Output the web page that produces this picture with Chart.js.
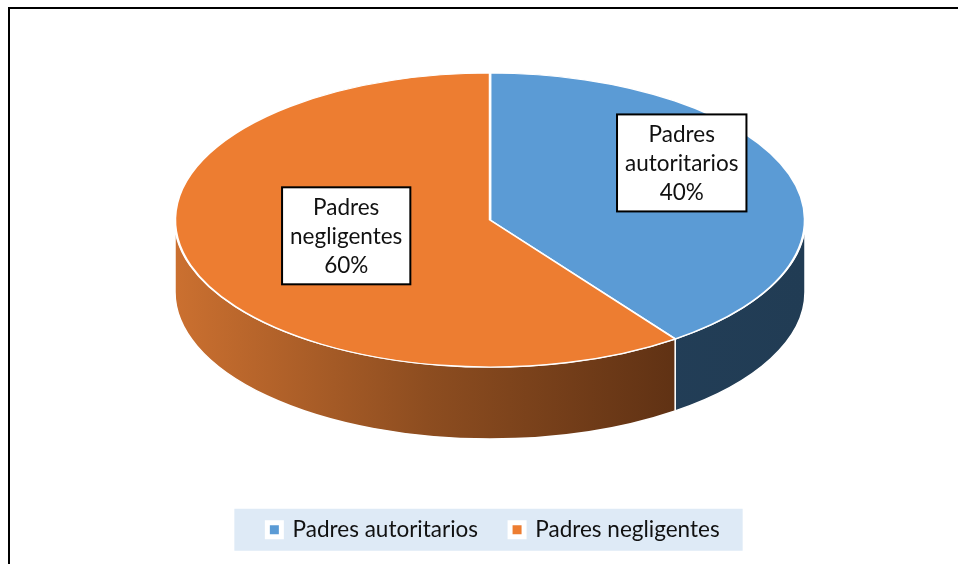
<!DOCTYPE html>
<html>
<head>
<meta charset="utf-8">
<script src="https://cdn.jsdelivr.net/npm/chart.js@4.4.0/dist/chart.umd.min.js"></script>
<style>
  html, body { margin: 0; padding: 0; background: #fff; overflow: hidden; }
  #marco { position: absolute; left: 8px; top: 7px; width: 960px; height: 570px; border: 2px solid #000; }
  #grafico { position: absolute; left: 0; top: 0; }
</style>
</head>
<body>
<div id="marco"></div>
<canvas id="grafico" width="958" height="564"></canvas>
<script>
const categorias = ['Padres autoritarios', 'Padres negligentes'];
const porcentajes = [40, 60];

const coloresTapa = ['#5B9BD5', '#ED7D31'];
// degradado de la pared lateral de cada porción (de izquierda a derecha)
const coloresLado = [
  [[0, '#264360'], [1, '#213C54']],
  [[0, '#CB7030'], [0.4, '#8D4D20'], [0.82, '#5D3013'], [1, '#5A2E12']]
];
const fuente = { family: 'Lato', size: 22.5 };

// pastel en 3D: inclina la tapa y dibuja la pared frontal
const pastel3d = {
  id: 'pastel3d',
  beforeDraw(chart, args, opts) {
    // fondo de la leyenda
    const leg = chart.legend;
    if (!leg || !leg.lineWidths) return;
    const pad = leg.options.labels.padding;
    const inicio = (leg.left + pad + leg.right - leg.lineWidths[0]) / 2;
    const fin = inicio + leg.lineWidths[0] - pad;
    const centro = leg.top + pad + fuente.size / 2;
    const ctx = chart.ctx;
    ctx.save();
    ctx.fillStyle = '#DEEAF6';
    ctx.fillRect(inicio - 33, centro - 21, fin - inicio + 33 + 23, 42);
    ctx.restore();
  },
  beforeDatasetsDraw(chart, args, opts) {
    const ctx = chart.ctx;
    const arcos = chart.getDatasetMeta(0).data;
    const R = arcos[0].outerRadius;
    const ry = R * opts.inclinacion;
    const cx = opts.centroX, cy = opts.centroY;
    arcos.forEach((arco, i) => {
      const a0 = Math.max(arco.startAngle, 0);
      const a1 = Math.min(arco.endAngle, Math.PI);
      if (a1 <= a0) return;
      const g = ctx.createLinearGradient(cx - R, 0, cx + R, 0);
      coloresLado[i].forEach(([p, c]) => g.addColorStop(p, c));
      ctx.beginPath();
      ctx.ellipse(cx, cy, R, ry, 0, a0, a1);
      ctx.ellipse(cx, cy + opts.grosor, R, ry, 0, a1, a0, true);
      ctx.closePath();
      ctx.fillStyle = g;
      ctx.fill();
      ctx.strokeStyle = '#fff';
      ctx.lineWidth = 1.5;
      ctx.stroke();
    });
    ctx.save();
    ctx.translate(cx, cy);
    ctx.scale(1, opts.inclinacion);
    ctx.translate(-arcos[0].x, -arcos[0].y);
  },
  afterDatasetsDraw(chart, args, opts) {
    const ctx = chart.ctx;
    ctx.restore();
    const arcos = chart.getDatasetMeta(0).data;
    const R = arcos[0].outerRadius;
    const ry = R * opts.inclinacion;
    const cx = opts.centroX, cy = opts.centroY;
    const total = porcentajes.reduce((a, b) => a + b, 0);
    ctx.save();
    ctx.font = fuente.size + 'px ' + fuente.family;
    ctx.textAlign = 'center';
    ctx.textBaseline = 'middle';
    arcos.forEach((arco, i) => {
      const medio = (arco.startAngle + arco.endAngle) / 2;
      const f = opts.etiquetaRadio[i];
      const x = cx + f * R * Math.cos(medio);
      const y = cy + f * ry * Math.sin(medio) - opts.etiquetaAlza[i];
      const lineas = [...categorias[i].split(' '), Math.round(porcentajes[i] / total * 100) + '%'];
      const ancho = Math.max(...lineas.map(t => ctx.measureText(t).width)) + 16;
      const alto = lineas.length * 29 + 10;
      ctx.fillStyle = '#fff';
      ctx.fillRect(x - ancho / 2, y - alto / 2, ancho, alto);
      ctx.strokeStyle = '#000';
      ctx.lineWidth = 2;
      ctx.strokeRect(x - ancho / 2, y - alto / 2, ancho, alto);
      ctx.fillStyle = '#111';
      lineas.forEach((t, j) => {
        ctx.fillText(t, x, y + (j - (lineas.length - 1) / 2) * 29 + 1);
      });
    });
    ctx.restore();
  }
};

const ctx = document.getElementById('grafico').getContext('2d');
const chart = new Chart(ctx, {
  type: 'pie',
  data: {
    labels: categorias,
    datasets: [{
      data: porcentajes,
      backgroundColor: coloresTapa,
      borderColor: '#fff',
      borderWidth: 2.5,
      radius: 315,
      clip: false
    }]
  },
  options: {
    responsive: false,
    animation: false,
    events: [],
    layout: { padding: { left: 29, right: 0, top: 0, bottom: 13 } },
    plugins: {
      tooltip: { enabled: false },
      legend: {
        position: 'bottom',
        labels: {
          font: fuente,
          color: '#111',
          boxWidth: 14,
          boxHeight: 14,
          padding: 32,
          generateLabels(chart) {
            const base = Chart.overrides.doughnut.plugins.legend.labels.generateLabels(chart);
            return base.map(it => ({ ...it, strokeStyle: '#fff', lineWidth: 5 }));
          }
        }
      },
      pastel3d: {
        centroX: 490,
        centroY: 220,
        inclinacion: 0.4667,
        grosor: 72,
        etiquetaRadio: [0.64, 0.48],
        etiquetaAlza: [28, 6]
      }
    }
  },
  plugins: [pastel3d]
});
</script>
</body>
</html>
